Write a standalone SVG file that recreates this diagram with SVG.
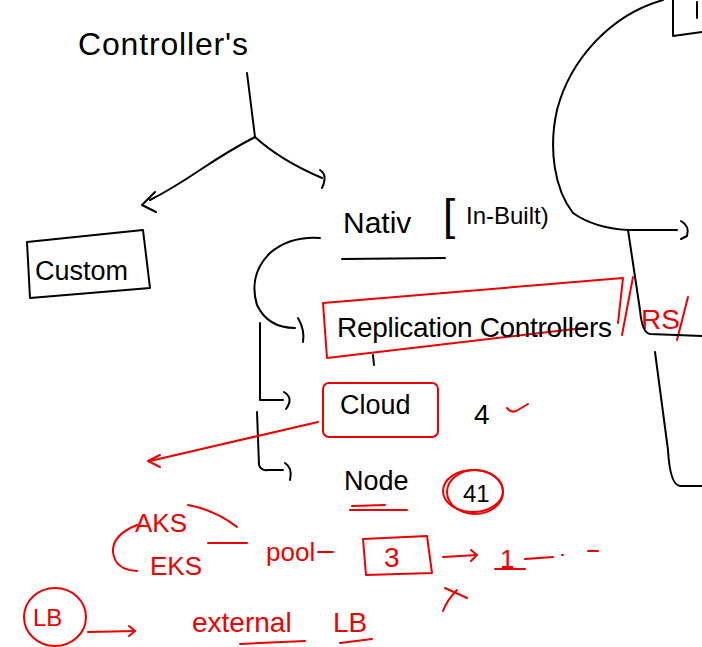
<svg xmlns="http://www.w3.org/2000/svg" width="702" height="647" viewBox="0 0 702 647">
<style>
.k{fill:none;stroke:#000;stroke-width:2;stroke-linecap:round;stroke-linejoin:round}
.r{fill:none;stroke:#e00;stroke-width:2;stroke-linecap:round;stroke-linejoin:round}
.tk{font-family:"Liberation Sans","DejaVu Sans",sans-serif;fill:#000}
.tr{font-family:"Liberation Sans","DejaVu Sans",sans-serif;fill:#e00}
</style>
<rect width="702" height="647" fill="#fff"/>

<g id="controllers"><text class="tk" x="78" y="55" font-size="32" textLength="170">Controller's</text></g>

<g id="custom">
<path class="k" d="M27 242 L143 230 L150 288 L30 298 Z"/>
<text class="tk" x="35" y="280" font-size="27">Custom</text>
</g>

<g id="native">
<text class="tk" x="343" y="233" font-size="30">Nativ</text>
<text class="tk" x="443" y="230" font-size="44">[</text>
<text class="tk" x="466" y="224" font-size="24">In-Built)</text>
<path class="k" d="M342 259 L445 258"/>
</g>

<g id="replication">
<path class="r" d="M323 303 L623 278 L618 323 M583 328 L327 358 L323 303"/>
<text class="tk" x="337" y="337" font-size="28" textLength="275">Replication Controllers</text>
<path class="k" d="M373 355 L374 365"/>
</g>

<g id="rs">
<path class="r" d="M622 335 L633 277 M677 340 L688 297"/>
<text class="tr" x="641" y="329" font-size="28">RS</text>
</g>

<g id="cloud">
<rect class="r" x="323" y="383" width="115" height="54" rx="6"/>
<text class="tk" x="340" y="414" font-size="27">Cloud</text>
</g>

<g id="four">
<text class="tk" x="474" y="424" font-size="28">4</text>
<path class="r" d="M507 408 Q512 414 518 410 L528 404"/>
</g>

<g id="node">
<text class="tk" x="344" y="490" font-size="27">Node</text>
<path class="r" d="M350 510 L407 510 M352 506 L385 505"/>
</g>

<g id="count41">
<ellipse class="r" cx="473" cy="491" rx="30" ry="21"/>
<ellipse class="r" cx="475" cy="492" rx="28" ry="22"/>
<text class="tk" x="463" y="502" font-size="24">41</text>
</g>

<g id="aks"><text class="tr" x="135" y="532" font-size="26">AKS</text></g>
<g id="eks">
<path class="r" d="M137 525 Q112 535 113 552 Q115 570 137 571"/>
<text class="tr" x="150" y="575" font-size="26">EKS</text>
</g>
<g id="pool"><text class="tr" x="266" y="561" font-size="26">pool</text></g>
<g id="three">
<path class="r" d="M363 539 L427 536 L432 573 L366 575 Z"/>
<text class="tr" x="384" y="567" font-size="28">3</text>
</g>
<g id="one">
<text class="tr" x="500" y="568" font-size="26">1</text>
<path class="r" d="M495 569 L525 569"/>
</g>
<g id="cross"><path class="r" d="M445 588 L467 598 M457 590 Q447 600 443 611"/></g>

<g id="lb">
<ellipse class="r" cx="55" cy="617" rx="31" ry="29"/>
<text class="tr" x="33" y="626" font-size="24">LB</text>
</g>
<g id="externalLB">
<text class="tr" x="192" y="632" font-size="28">external</text>
<text class="tr" x="333" y="632" font-size="28">LB</text>
<path class="r" d="M240 644 L305 641 M340 643 L372 639"/>
</g>

<g id="rightShape">
<path class="k" d="M673 0 L673 36 L702 32"/>
<path class="k" d="M697 2 L697 18"/>
<path class="k" d="M663 0 C610 15 570 60 557 110 C548 150 555 190 573 213 C590 225 610 229 628 230 L677 230"/>
<path class="k" d="M628 230 L640 310 Q642 333 650 334 L702 336"/>
<path class="k" d="M655 352 L668 450 Q670 485 680 486 L702 486"/>
</g>

<g id="connectors">
<path class="k" d="M247 73 L255 137"/>
<path class="k" d="M255 137 Q230 150 200 170 Q170 190 150 200"/>
<path class="k" d="M155 192 L142 205 L156 212"/>
<path class="k" d="M255 137 Q280 160 322 178"/>
<path class="k" d="M320 170 Q328 175 322 188"/>
<path class="k" d="M320 238 Q290 236 270 253 Q248 275 257 305 Q268 328 295 328"/>
<path class="k" d="M298 318 Q305 330 303 342"/>
<path class="k" d="M260 323 L260 400 L283 400"/>
<path class="k" d="M284 392 Q294 398 286 409"/>
<path class="k" d="M257 412 L259 465 Q261 471 268 470 L283 470"/>
<path class="k" d="M285 463 Q293 468 290 480"/>
<path class="k" d="M681 221 Q690 226 687 236 L681 239"/>
<path class="r" d="M318 422 Q240 440 150 461"/>
<path class="r" d="M160 455 L148 461 L160 467"/>
<path class="r" d="M188 505 Q215 510 237 527"/>
<path class="r" d="M208 543 L247 543"/>
<path class="r" d="M318 552 L333 552"/>
<path class="r" d="M443 557 L477 555"/>
<path class="r" d="M471 550 L477 555 L471 561"/>
<path class="r" d="M525 559 L553 557 M562 555 L563 555 M588 551 L598 551"/>
<path class="r" d="M88 632 L135 631"/>
<path class="r" d="M129 626 L135 631 L129 636"/>
</g>
</svg>
